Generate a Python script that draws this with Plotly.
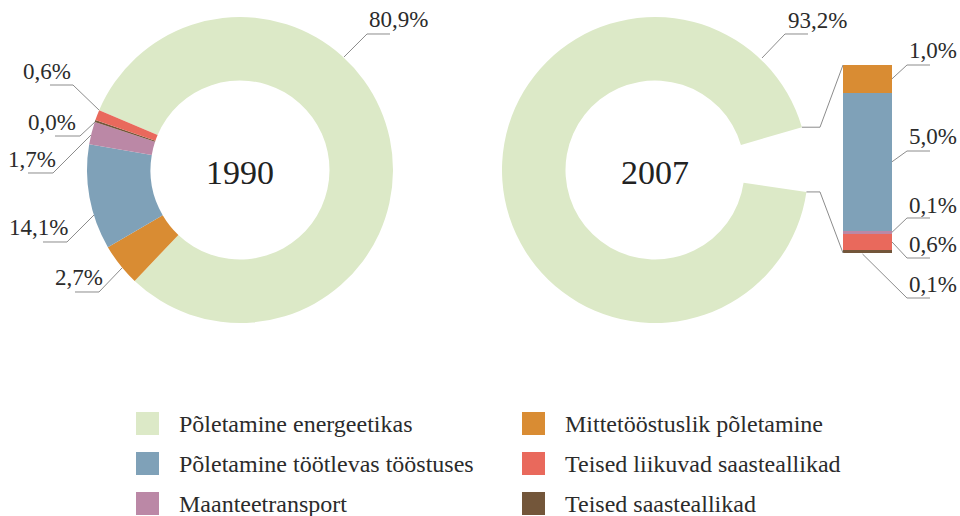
import math
import plotly.graph_objects as go

# ---------------- data ----------------
categories = [
    "Põletamine energeetikas",
    "Mittetööstuslik põletamine",
    "Põletamine töötlevas tööstuses",
    "Maanteetransport",
    "Teised saasteallikad",
    "Teised liikuvad saasteallikad",
]
colors = ["#dce9c7", "#d98c33", "#7fa1b8", "#bb88a6", "#73563a", "#e9695c"]

# 1990 – printed labels and the slice sizes as drawn in the picture
labels_1990 = [80.9, 2.7, 14.1, 1.7, 0.0, 0.6]
drawn_1990 = [80.7, 4.5, 11.1, 2.4, 0.2, 1.1]

# 2007 – main share in the donut, the rest is exploded into the bar
share_2007_main = 93.2
bar_cats_2007 = ["Teised saasteallikad", "Teised liikuvad saasteallikad",
                 "Maanteetransport", "Põletamine töötlevas tööstuses",
                 "Mittetööstuslik põletamine"]          # bottom -> top
bar_vals_2007 = [0.1, 0.6, 0.1, 5.0, 1.0]

legend_cols = [
    ["Põletamine energeetikas", "Põletamine töötlevas tööstuses", "Maanteetransport"],
    ["Mittetööstuslik põletamine", "Teised liikuvad saasteallikad", "Teised saasteallikad"],
]

# ---------------- layout helpers ----------------
W, H = 960, 516
FONT = "Liberation Serif"
TXT = "#2b2b2b"
LINE = "#8c8c8c"
col_of = dict(zip(categories, colors))


def fx(x):
    return x / W


def fy(y):
    return 1 - y / H


def fmt(v):
    return f"{v:.1f}".replace(".", ",") + "%"


R = 153
HOLE = 0.585
c1 = (240, 170)
c2 = (655, 170)
bar_x = (843, 892)
bar_y = (65, 253)   # top, bottom in px

fig = go.Figure()

# 1990 donut
fig.add_trace(go.Pie(
    values=drawn_1990, labels=categories, sort=False, direction="clockwise",
    rotation=-67, hole=HOLE, textinfo="none",
    marker=dict(colors=colors, line=dict(width=0)),
    domain=dict(x=[fx(c1[0] - R), fx(c1[0] + R)], y=[fy(c1[1] + R), fy(c1[1] - R)]),
    showlegend=False,
))

# 2007 donut with gap for the exploded part
rest = sum(bar_vals_2007)
gap_center = 4.0  # math degrees
gap_span = 360 * rest / (share_2007_main + rest)
start_math = gap_center - gap_span / 2
fig.add_trace(go.Pie(
    values=[share_2007_main, rest], labels=[categories[0], "muu"], sort=False,
    direction="clockwise", rotation=90 - start_math, hole=HOLE, textinfo="none",
    marker=dict(colors=[colors[0], "rgba(0,0,0,0)"], line=dict(width=0)),
    domain=dict(x=[fx(c2[0] - R), fx(c2[0] + R)], y=[fy(c2[1] + R), fy(c2[1] - R)]),
    showlegend=False, hoverinfo="skip",
))

# 2007 stacked bar
for cat, v in zip(bar_cats_2007, bar_vals_2007):
    fig.add_trace(go.Bar(x=[0], y=[v], width=1, marker=dict(color=col_of[cat], line=dict(width=0)),
                         name=cat, showlegend=False, xaxis="x", yaxis="y"))

fig.update_layout(
    width=W, height=H, margin=dict(l=0, r=0, t=0, b=0),
    paper_bgcolor="white", plot_bgcolor="rgba(0,0,0,0)",
    barmode="stack", bargap=0,
    xaxis=dict(domain=[fx(bar_x[0]), fx(bar_x[1])], range=[-0.5, 0.5], visible=False, fixedrange=True),
    yaxis=dict(domain=[fy(bar_y[1]), fy(bar_y[0])], range=[0, rest], visible=False, fixedrange=True),
    font=dict(family=FONT, color=TXT),
)

shapes = []
annotations = []


def add_path(pts):
    d = "M " + " L ".join(f"{fx(x):.5f},{fy(y):.5f}" for x, y in pts)
    shapes.append(dict(type="path", path=d, xref="paper", yref="paper",
                       line=dict(color=LINE, width=1)))


def add_label(text, x, yc, size=23):
    annotations.append(dict(text=text, x=fx(x), y=fy(yc), xref="paper", yref="paper",
                            xanchor="left", yanchor="middle", showarrow=False,
                            font=dict(family=FONT, size=size, color=TXT)))


# centre titles
for (cx, cy), t in [(c1, "1990"), (c2, "2007")]:
    annotations.append(dict(text=t, x=fx(cx), y=fy(cy + 3), xref="paper", yref="paper",
                            xanchor="center", yanchor="middle", showarrow=False,
                            font=dict(family=FONT, size=34, color="#222")))

# 1990 label placement (text left x, text centre y, leader path)
place_1990 = [
    (367, 20, [(344, 57), (367, 34), (390, 34)]),
    (53, 277, [(122, 268), (99, 292), (75, 292)]),
    (7, 227, [(94, 215), (67, 242), (43, 242)]),
    (6, 159, [(91, 135), (53, 173), (28, 173)]),
    (26, 123, [(95, 122), (80, 136), (55, 136)]),
    (21, 71, [(99, 110), (73, 85), (50, 85)]),
]
for v, (tx, ty, pts) in zip(labels_1990, place_1990):
    add_path(pts)
    add_label(fmt(v), tx, ty)

# 2007 main label
add_path([(762, 58), (785, 34), (808, 34)])
add_label(fmt(share_2007_main), 786, 21)

# connectors between donut gap and bar
a_up = math.radians(start_math + gap_span)
a_lo = math.radians(start_math)
p_up = (c2[0] + R * math.cos(a_up), c2[1] - R * math.sin(a_up))
p_lo = (c2[0] + R * math.cos(a_lo), c2[1] - R * math.sin(a_lo))
add_path([p_up, (820, p_up[1]), (bar_x[0], bar_y[0])])
add_path([p_lo, (820, p_lo[1]), (bar_x[0], bar_y[1])])

# bar segment labels
scale = (bar_y[1] - bar_y[0]) / rest
text_y_2007 = [284, 245, 205, 136, 51]   # bottom -> top segments
under_y_2007 = [298, 258, 218, 151, 65]
cum = 0
for i, (v, ty, uy) in enumerate(zip(bar_vals_2007, text_y_2007, under_y_2007)):
    mid = bar_y[1] - (cum + v / 2) * scale
    cum += v
    if i == 0:
        start = ((bar_x[0] + bar_x[1]) / 2 - 5, bar_y[1] + 1)
    else:
        start = (bar_x[1], mid)
    add_path([start, (907, uy), (930, uy)])
    add_label(fmt(v), 907, ty)

# legend
lx = [136, 522]
tx_ = [177, 563]
rows = [412, 452, 492]
for ci, col in enumerate(legend_cols):
    for ri, cat in enumerate(col):
        shapes.append(dict(type="rect", xref="paper", yref="paper",
                           x0=fx(lx[ci]), x1=fx(lx[ci] + 23), y0=fy(rows[ri] + 23), y1=fy(rows[ri]),
                           fillcolor=col_of[cat], line=dict(width=0)))
        add_label(cat, tx_[ci], rows[ri] + 11.5, size=24)

fig.update_layout(shapes=shapes, annotations=annotations)
fig.write_html(
    "out.html",
    config={"displayModeBar": False},
    post_script="document.body.style.margin='0';document.body.style.overflow='hidden';",
)
